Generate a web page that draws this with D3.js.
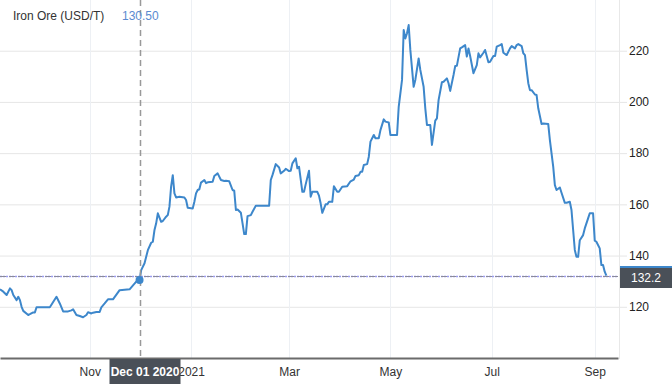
<!DOCTYPE html>
<html>

<head>
  <meta charset="UTF-8">
  <title>Iron Ore</title>
  <style>
    body { margin: 0; background: #fff; }
    text { font-family: "Liberation Sans", Arial, sans-serif; }
  </style>
</head>

<body>
  <script src="https://cdn.jsdelivr.net/npm/d3@7"></script>
  <script>
    const dates = [
      '2020-09-08', '2020-09-10', '2020-09-12', '2020-09-14', '2020-09-15', '2020-09-16', '2020-09-18', '2020-09-19',
      '2020-09-20', '2020-09-21', '2020-09-22', '2020-09-25', '2020-09-26', '2020-09-28', '2020-09-29', '2020-09-30',
      '2020-10-08', '2020-10-12', '2020-10-14', '2020-10-16', '2020-10-19', '2020-10-21', '2020-10-22', '2020-10-24',
      '2020-10-26', '2020-10-28', '2020-10-30', '2020-10-31', '2020-11-02', '2020-11-03', '2020-11-05', '2020-11-07',
      '2020-11-08', '2020-11-10', '2020-11-12', '2020-11-15', '2020-11-19', '2020-11-25', '2020-11-29', '2020-12-01',
      '2020-12-02', '2020-12-04', '2020-12-06', '2020-12-08', '2020-12-09', '2020-12-10', '2020-12-11', '2020-12-12',
      '2020-12-14', '2020-12-15', '2020-12-17', '2020-12-18', '2020-12-19', '2020-12-20', '2020-12-21', '2020-12-22',
      '2020-12-23', '2020-12-25', '2020-12-28', '2020-12-29', '2020-12-30', '2021-01-02', '2021-01-03', '2021-01-04',
      '2021-01-05', '2021-01-06', '2021-01-07', '2021-01-09', '2021-01-10', '2021-01-11', '2021-01-14', '2021-01-15',
      '2021-01-17', '2021-01-19', '2021-01-21', '2021-01-22', '2021-01-24', '2021-01-26', '2021-01-27', '2021-01-28',
      '2021-01-29', '2021-01-31', '2021-02-01', '2021-02-02', '2021-02-03', '2021-02-04', '2021-02-06', '2021-02-07',
      '2021-02-09', '2021-02-17', '2021-02-18', '2021-02-19', '2021-02-21', '2021-02-23', '2021-02-24', '2021-02-26',
      '2021-02-27', '2021-03-01', '2021-03-02', '2021-03-03', '2021-03-05', '2021-03-06', '2021-03-07', '2021-03-09',
      '2021-03-10', '2021-03-11', '2021-03-13', '2021-03-14', '2021-03-15', '2021-03-18', '2021-03-19', '2021-03-20',
      '2021-03-21', '2021-03-23', '2021-03-24', '2021-03-25', '2021-03-27', '2021-03-28', '2021-03-30', '2021-03-31',
      '2021-04-02', '2021-04-05', '2021-04-07', '2021-04-09', '2021-04-10', '2021-04-12', '2021-04-13', '2021-04-14',
      '2021-04-15', '2021-04-17', '2021-04-18', '2021-04-19', '2021-04-21', '2021-04-22', '2021-04-24', '2021-04-25',
      '2021-04-27', '2021-04-28', '2021-04-30', '2021-05-01', '2021-05-05', '2021-05-06', '2021-05-08', '2021-05-09',
      '2021-05-10', '2021-05-11', '2021-05-12', '2021-05-13', '2021-05-15', '2021-05-16', '2021-05-18', '2021-05-19',
      '2021-05-21', '2021-05-22', '2021-05-23', '2021-05-25', '2021-05-26', '2021-05-28', '2021-05-29', '2021-05-30',
      '2021-06-01', '2021-06-02', '2021-06-04', '2021-06-05', '2021-06-06', '2021-06-08', '2021-06-09', '2021-06-10',
      '2021-06-12', '2021-06-13', '2021-06-15', '2021-06-16', '2021-06-17', '2021-06-18', '2021-06-20', '2021-06-22',
      '2021-06-23', '2021-06-24', '2021-06-26', '2021-06-27', '2021-06-29', '2021-06-30', '2021-07-02', '2021-07-03',
      '2021-07-04', '2021-07-06', '2021-07-07', '2021-07-08', '2021-07-10', '2021-07-12', '2021-07-13', '2021-07-15',
      '2021-07-16', '2021-07-17', '2021-07-19', '2021-07-20', '2021-07-21', '2021-07-22', '2021-07-23', '2021-07-24',
      '2021-07-25', '2021-07-27', '2021-07-28', '2021-07-29', '2021-07-31', '2021-08-01', '2021-08-04', '2021-08-05',
      '2021-08-07', '2021-08-08', '2021-08-09', '2021-08-11', '2021-08-12', '2021-08-14', '2021-08-15', '2021-08-17',
      '2021-08-18', '2021-08-19', '2021-08-20', '2021-08-21', '2021-08-22', '2021-08-23', '2021-08-25', '2021-08-26',
      '2021-08-28', '2021-08-29', '2021-08-31', '2021-09-01', '2021-09-02', '2021-09-04', '2021-09-05', '2021-09-06',
      '2021-09-07', '2021-09-08'
    ]

    const prices = [
      126.8, 125.9, 124.6, 127.2, 126.5, 124.6, 122.6, 123.9,
      122.6, 120.0, 118.4, 116.8, 117.1, 117.8, 117.8, 119.8,
      119.8, 123.9, 121.3, 118.2, 118.2, 118.6, 119.0, 116.8,
      116.4, 115.9, 116.8, 117.9, 117.4, 117.7, 118.0, 118.0,
      119.8, 121.3, 122.9, 122.9, 126.5, 126.8, 129.8, 130.5,
      134.3, 137.0, 142.1, 145.0, 145.4, 150.0, 152.6, 156.5,
      153.2, 153.5, 155.2, 155.8, 159.1, 166.9, 171.4, 164.3,
      162.7, 163.0, 162.7, 161.7, 158.7, 158.4, 161.0, 164.3,
      165.6, 165.9, 168.5, 169.5, 168.3, 168.6, 168.8, 171.1,
      172.1, 169.5, 169.1, 169.2, 169.0, 165.6, 165.3, 157.8,
      158.0, 156.7, 152.6, 148.4, 148.4, 155.4, 155.8, 157.1,
      159.5, 159.5, 169.5, 171.4, 175.7, 174.4, 172.1, 173.1,
      173.9, 173.0, 173.1, 176.0, 178.0, 174.1, 174.7, 164.9,
      164.9, 167.8, 173.1, 163.0, 164.9, 164.9, 163.4, 160.4,
      156.7, 160.0, 160.0, 161.0, 161.0, 167.1, 164.9, 164.9,
      166.9, 167.1, 169.0, 169.7, 171.1, 171.4, 172.7, 172.7,
      175.4, 175.7, 178.6, 184.5, 187.1, 185.8, 185.8, 189.0,
      193.2, 192.3, 192.0, 187.1, 187.1, 198.1, 208.6, 228.1,
      224.8, 226.8, 230.0, 220.3, 205.9, 208.6, 217.0, 212.5,
      205.9, 197.5, 191.0, 191.0, 183.2, 192.7, 193.6, 200.7,
      207.7, 207.9, 209.2, 207.3, 204.3, 210.5, 214.0, 214.1,
      220.9, 221.3, 222.2, 217.7, 220.9, 217.9, 211.2, 214.4,
      219.0, 217.4, 219.2, 220.3, 215.5, 215.7, 217.9, 217.9,
      221.6, 222.2, 222.6, 219.2, 218.3, 220.9, 221.8, 220.9,
      222.2, 222.6, 221.8, 219.0, 218.3, 212.5, 207.3, 204.6,
      204.6, 202.9, 202.7, 197.5, 191.4, 191.6, 191.4, 185.1,
      174.7, 167.5, 165.6, 166.6, 164.5, 160.6, 160.6, 161.0,
      157.8, 150.0, 142.2, 139.5, 139.5, 146.0, 148.0, 150.6,
      154.5, 156.5, 156.5, 145.8, 145.4, 142.8, 136.3, 136.3,
      133.7, 132.2
    ]

    const xTicks = ['2020-11-01', '2021-01-01', '2021-03-01', '2021-05-01', '2021-07-01', '2021-09-01']
    const yTicks = [120, 140, 160, 180, 200, 220]
    const seriesName = 'Iron Ore (USD/T)'
    const hoverDate = '2020-12-01'

    const width = 672,
      height = 384,
      plotW = 618,
      plotH = 358

    const parse = d3.timeParse('%Y-%m-%d')
    const data = dates.map((d, i) => ({ date: parse(d), value: prices[i] }))

    const x = d3.scaleTime()
      .domain([parse('2020-09-08'), parse('2021-09-15')])
      .range([0, plotW])

    const y = d3.scaleLinear()
      .domain([100, 239.8])
      .range([plotH, 0])

    const svg = d3.select('body')
      .append('svg')
      .attr('width', width)
      .attr('height', height)

    // horizontal grid + right labels
    const yAxis = d3.axisRight(y)
      .tickValues(yTicks)
      .tickSize(plotW + 9)
      .tickPadding(2)

    svg.append('g')
      .attr('transform', 'translate(0,0)')
      .call(yAxis)
      .call(g => g.select('.domain').remove())
      .call(g => g.selectAll('.tick line').attr('stroke', '#e6e6e6'))
      .call(g => g.selectAll('.tick text')
        .attr('fill', '#222')
        .attr('font-size', 12))

    // vertical grid
    svg.append('g')
      .selectAll('line')
      .data(xTicks.map(parse))
      .enter()
      .append('line')
      .attr('x1', d => Math.round(x(d)) + 0.5)
      .attr('x2', d => Math.round(x(d)) + 0.5)
      .attr('y1', 0)
      .attr('y2', plotH)
      .attr('stroke', '#edf0f4')

    // right edge line
    svg.append('line')
      .attr('x1', plotW + 1.5).attr('x2', plotW + 1.5)
      .attr('y1', 0).attr('y2', plotH + 1)
      .attr('stroke', '#e8e8e8')

    // bottom axis
    const xAxis = d3.axisBottom(x)
      .tickValues(xTicks.map(parse))
      .tickSize(0)
      .tickPadding(9)
      .tickFormat(d => d.getMonth() === 0 ? d3.timeFormat('%Y')(d) : d3.timeFormat('%b')(d))

    svg.append('g')
      .attr('transform', `translate(0,${plotH})`)
      .call(xAxis)
      .call(g => g.select('.domain').attr('stroke', '#6b6b6b').attr('stroke-width', 2))
      .call(g => g.selectAll('.tick text')
        .attr('fill', '#333')
        .attr('font-size', 12))

    svg.append('clipPath')
      .attr('id', 'plot')
      .append('rect')
      .attr('width', plotW)
      .attr('height', plotH)

    const line = d3.line()
      .x(d => x(d.date))
      .y(d => y(d.value))

    svg.append('path')
      .datum(data)
      .attr('clip-path', 'url(#plot)')
      .attr('fill', 'none')
      .attr('stroke', '#3d87cb')
      .attr('stroke-width', 2)
      .attr('stroke-linejoin', 'round')
      .attr('d', line)

    // last value line
    const last = data[data.length - 1]
    const ly = Math.round(y(last.value)) + 0.5

    svg.append('line')
      .attr('x1', 0).attr('x2', plotW)
      .attr('y1', ly).attr('y2', ly)
      .attr('stroke', '#9b9bf2')
      .attr('stroke-width', 1.5)
      .attr('stroke-dasharray', '2,1')

    svg.append('line')
      .attr('x1', 0).attr('x2', plotW)
      .attr('y1', ly).attr('y2', ly)
      .attr('stroke', '#8a8a9a')
      .attr('stroke-width', 1)
      .attr('stroke-dasharray', '6,3')

    // crosshair
    const hover = data.find(d => d3.timeFormat('%Y-%m-%d')(d.date) === hoverDate)
    const hx = Math.round(x(hover.date)) + 0.5

    svg.append('line')
      .attr('x1', hx).attr('x2', hx)
      .attr('y1', 0).attr('y2', height)
      .attr('stroke', '#999')
      .attr('stroke-width', 1.5)
      .attr('stroke-dasharray', '6,4')

    svg.append('circle')
      .attr('cx', x(hover.date))
      .attr('cy', y(hover.value))
      .attr('r', 4)
      .attr('fill', '#3d87cb')

    svg.append('rect')
      .attr('x', hx - 31)
      .attr('y', 359)
      .attr('width', 71)
      .attr('height', 25)
      .attr('fill', '#4a5058')

    svg.append('text')
      .attr('x', hx + 4.5)
      .attr('y', 376)
      .attr('text-anchor', 'middle')
      .attr('fill', '#fff')
      .attr('font-size', 12)
      .attr('font-weight', 'bold')
      .text(d3.timeFormat('%b %d %Y')(hover.date))

    // last value label
    svg.append('rect')
      .attr('x', plotW + 2)
      .attr('y', ly - 10.5)
      .attr('width', width - plotW - 2)
      .attr('height', 22)
      .attr('fill', '#4a5058')

    svg.append('rect')
      .attr('x', plotW + 2)
      .attr('y', ly - 10.5)
      .attr('width', width - plotW - 2)
      .attr('height', 2)
      .attr('fill', '#3d87cb')

    svg.append('text')
      .attr('x', 646)
      .attr('y', ly + 5)
      .attr('text-anchor', 'middle')
      .attr('fill', '#fff')
      .attr('font-size', 12)
      .text(d3.format('.1f')(last.value))

    // legend
    svg.append('text')
      .attr('x', 13)
      .attr('y', 20)
      .attr('fill', '#333')
      .attr('font-size', 12)
      .text(seriesName)

    svg.append('text')
      .attr('x', 122)
      .attr('y', 20)
      .attr('fill', '#5a8ad0')
      .attr('font-size', 12)
      .text(d3.format('.2f')(hover.value))
  </script>
</body>

</html>
